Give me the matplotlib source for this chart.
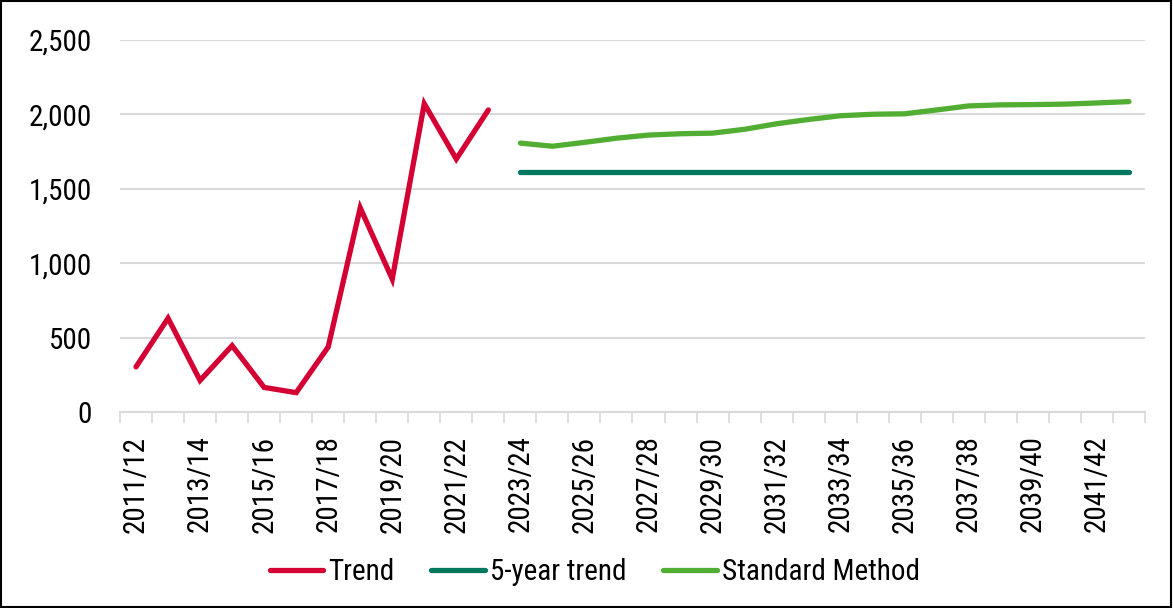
import matplotlib
matplotlib.use("Agg")
import matplotlib.pyplot as plt
from matplotlib.patches import Rectangle
from matplotlib import font_manager

# Financial years 2011/12 .. 2042/43
years = [f"{y}/{(y + 1) % 100:02d}" for y in range(2011, 2043)]

trend = [303, 630, 212, 446, 165, 130, 437, 1372, 893, 2072, 1700, 2030]
five_year_trend = [1613] * 20
standard_method = [1807, 1786, 1812, 1840, 1861, 1870, 1874, 1900, 1937, 1966,
                   1991, 2001, 2004, 2030, 2057, 2064, 2066, 2069, 2077, 2086]

series_names = ["Trend", "5-year trend", "Standard Method"]
colors = ["#D40034", "#00785F", "#52AE32"]

avail = {f.name for f in font_manager.fontManager.ttflist}
family = next((f for f in ["Roboto Condensed", "Archivo Narrow", "Liberation Sans"] if f in avail),
              "DejaVu Sans")
plt.rcParams["font.family"] = [family, "DejaVu Sans"]

fig = plt.figure(figsize=(11.73, 6.08), dpi=100)
ax = fig.add_axes([0.1023, 0.3224, 0.8738, 0.6118])

x_all = list(range(len(years)))
n_hist = len(trend)
ax.plot(x_all[:n_hist], trend, color=colors[0], lw=3.8,
        solid_capstyle="round", solid_joinstyle="miter", label=series_names[0])
ax.plot(x_all[n_hist:], five_year_trend, color=colors[1], lw=3.8,
        solid_capstyle="round", label=series_names[1])
ax.plot(x_all[n_hist:], standard_method, color=colors[2], lw=3.8,
        solid_capstyle="round", label=series_names[2])

ax.set_xlim(-0.5, len(years) - 0.5)
ax.set_ylim(0, 2500)
ax.set_yticks(range(0, 2501, 500))
ax.set_yticklabels([f"{v:,}" for v in range(0, 2501, 500)], fontsize=21)
ax.yaxis.grid(True, color="#d9d9d9", lw=1.5)
ax.set_axisbelow(True)
ax.tick_params(axis="y", length=0, pad=20)

ax.set_xticks(x_all[::2])
ax.set_xticklabels(years[::2], rotation=90, fontsize=21)
ax.set_xticks([i - 0.5 for i in range(len(years) + 1)], minor=True)
ax.tick_params(axis="x", which="major", length=0, pad=17)
ax.tick_params(axis="x", which="minor", length=8, width=1.2, color="#d9d9d9")

for s in ["top", "right", "left"]:
    ax.spines[s].set_visible(False)
ax.spines["bottom"].set_color("#d9d9d9")
ax.spines["bottom"].set_linewidth(1.5)

fig.legend(loc="center", bbox_to_anchor=(0.507, 0.059), ncol=3, frameon=False,
           fontsize=21, handlelength=1.85, handletextpad=0.17, columnspacing=1.25)

fig.patches.append(Rectangle((0.001, 0.001), 0.997, 0.997, transform=fig.transFigure,
                             fill=False, edgecolor="black", lw=1.5))

fig.savefig("out.png", dpi=100)
